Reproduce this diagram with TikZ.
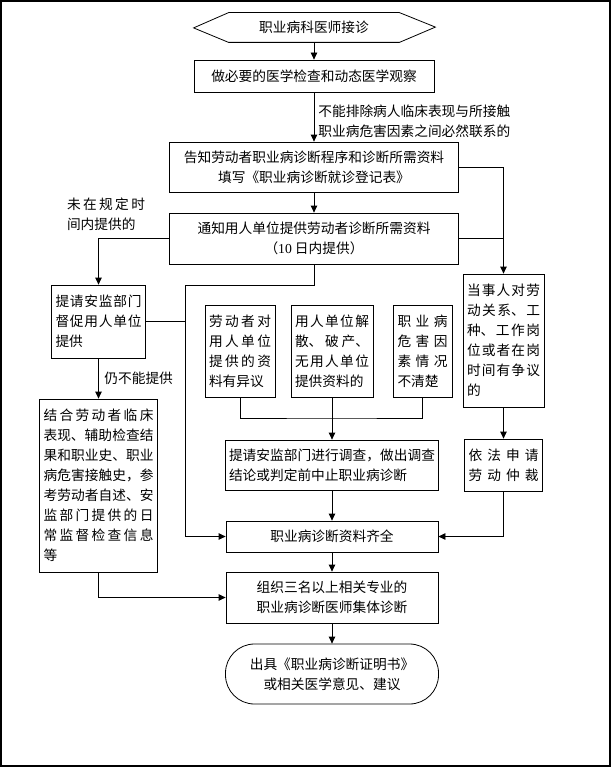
\documentclass[tikz,border=0pt]{standalone}
\usepackage{fontspec}
\usetikzlibrary{arrows.meta}
\setmainfont{Noto Sans CJK SC}
\newfontfamily\numfont{Liberation Serif}
\XeTeXlinebreaklocale "zh"
\XeTeXlinebreakskip=0pt plus 6pt
\setlength{\parindent}{0pt}

\begin{document}
\begin{tikzpicture}[x=1pt,y=-1pt,line width=0.8pt,
		every node/.style={font=\fontsize{13.7}{20}\selectfont,inner sep=0pt},
		box/.style={draw,align=center},
		parbox/.style={draw,align=justify,inner xsep=4pt},
		note/.style={align=justify},
		tip/.style={-{Triangle[length=7pt,width=6.5pt]}}]
			\useasboundingbox (0,0) rectangle (612,768);
			\draw[line width=1.6pt] (0.8,0.8) rectangle (610,766.2);
			% top
			\draw (314,27.5) node [minimum width=170pt,minimum height=29pt] (1) {职业病科医师接诊};
			\draw (1.north west) -- (1.north east) -- ++(36,14.5) -- (1.south east) -- (1.south west) -- ++(-35,-14.5) -- cycle;
			\draw (314,76) node [box,minimum width=240pt,minimum height=32pt] (2) {做必要的医学检查和动态医学观察};
			\draw (318,121) node [anchor=west,align=left] (l1) {不能排除病人临床表现与所接触\\职业病危害因素之间必然联系的};
			\draw (314,167) node [box,minimum width=289pt,minimum height=50pt] (3) {告知劳动者职业病诊断程序和诊断所需资料\\填写《职业病诊断就诊登记表》};
			\draw (314,238.5) node [box,minimum width=289pt,minimum height=51pt] (4) {通知用人单位提供劳动者诊断所需资料\\（{\numfont 10} 日内提供）};
			\draw (106,214) node [note,text width=78pt] (l2) {未在规定时\linebreak 间内提供的};
			% left column
			\draw (98.5,321.5) node [parbox,text width=86pt,minimum height=73pt] (5) {提请安监部门\linebreak 督促用人单位\linebreak 提供};
			\draw (104,378) node [anchor=west] (l3) {仍不能提供};
			\draw (98.5,485.5) node [parbox,text width=110pt,minimum height=173pt] (6) {结合劳动者临床\linebreak 表现、辅助检查结\linebreak 果和职业史、职业\linebreak 病危害接触史，参\linebreak 考劳动者自述、安\linebreak 监部门提供的日\linebreak 常监督检查信息\linebreak 等};
			% middle
			\draw (240,351) node [parbox,text width=62pt,minimum height=92pt] (7) {劳动者对\linebreak 用人单位\linebreak 提供的资\linebreak 料有异议};
			\draw (332,351) node [parbox,text width=74pt,minimum height=92pt] (8) {用人单位解\linebreak 散、破产、\linebreak 无用人单位\linebreak 提供资料的};
			\draw (422.5,351) node [parbox,text width=50pt,inner xsep=4.5pt,minimum height=92pt] (9) {职业病\linebreak 危害因\linebreak 素情况\linebreak 不清楚};
			\draw (332,465) node [parbox,text width=206pt,inner xsep=3.5pt,minimum height=50pt] (10) {提请安监部门进行调查，做出调查\linebreak 结论或判定前中止职业病诊断};
			\draw (332,536.5) node [box,minimum width=212pt,minimum height=31pt] (11) {职业病诊断资料齐全};
			\draw (332,597.5) node [box,minimum width=212pt,minimum height=51pt] (12) {组织三名以上相关专业的\\职业病诊断医师集体诊断};
			\draw (332,674) node [box,rounded corners=29pt,minimum width=213pt,minimum height=60pt] (13) {出具《职业病诊断证明书》\\或相关医学意见、建议};
			% right column
			\draw (503.5,340.5) node [parbox,text width=73pt,minimum height=133pt] (14) {当事人对劳\linebreak 动关系、工\linebreak 种、工作岗\linebreak 位或者在岗\linebreak 时间有争议\linebreak 的};
			\draw (503.5,465) node [parbox,text width=70pt,minimum height=52pt] (15) {{\parfillskip=0pt 依法申请\linebreak 劳动仲裁\par}};
			\coordinate (c1) at (185,285);
			\coordinate (c2) at (332,418);
			\path[tip]
				(1) edge (2)
				(2) edge (3)
				(3) edge (4)
				(5) edge (6)
				(8) edge (10)
				(10) edge (11)
				(11) edge (12)
				(12) edge (13)
				(14) edge (15);
			\draw[tip] (3.east) -| (14.north);
			\draw (4.east) -- (4.east -| 14.north);
			\draw[tip] (4.west) -| (5.north);
			\draw[tip] (4.south) |- (c1) |- (11.west);
			\draw (5.east) -- (5.east -| c1);
			\draw[tip] (6.south) |- (12.west);
			\draw (7.south) |- (c2) -| (9.south);
			\draw[tip] (15.south) |- (11.east);
		\end{tikzpicture}
\end{document}
